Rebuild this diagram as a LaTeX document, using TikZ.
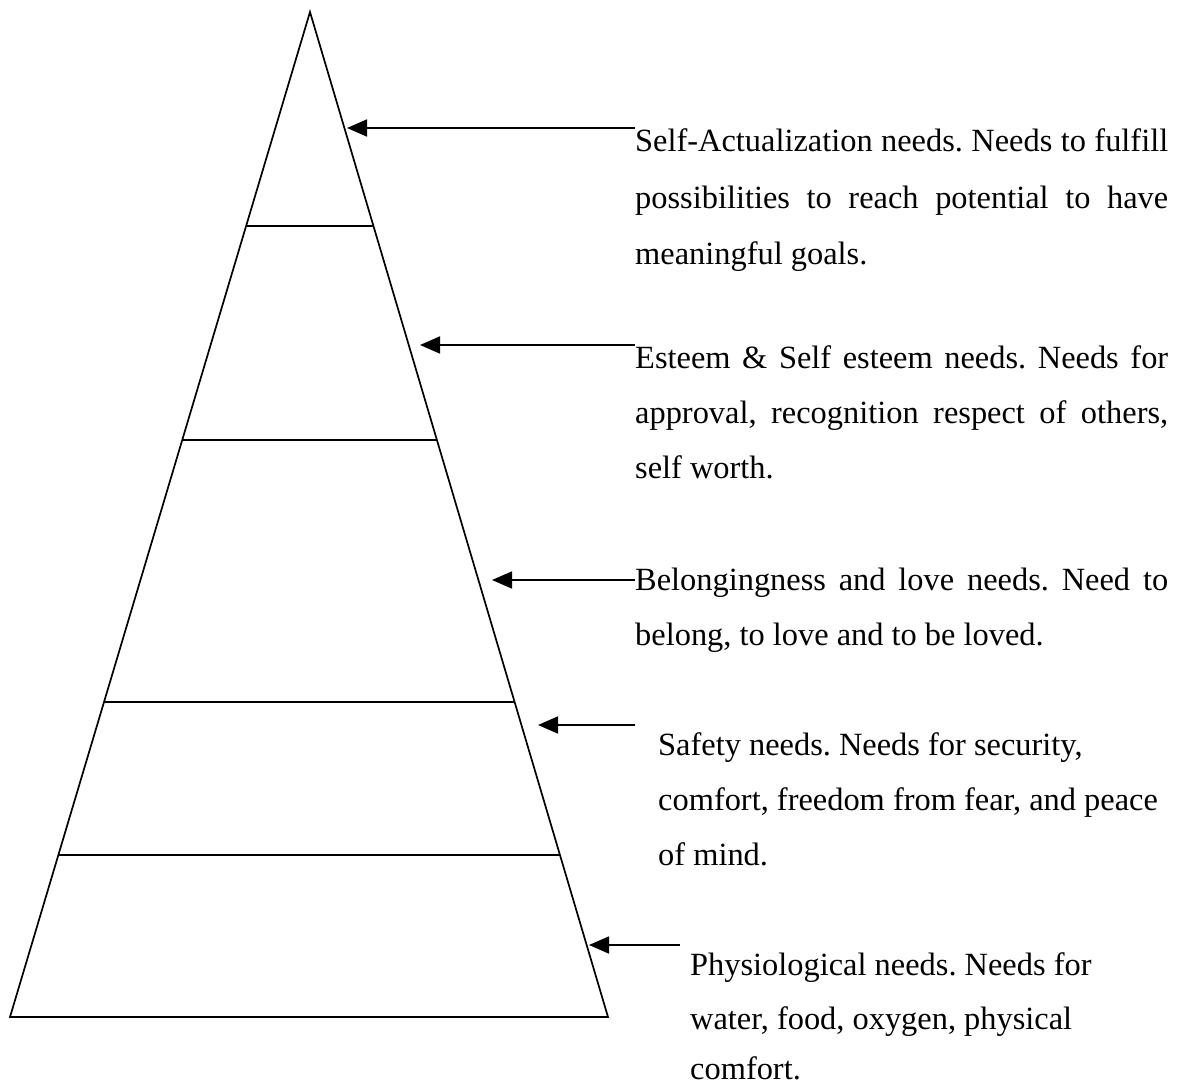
\documentclass[tikz,border=0pt]{standalone}
\usepackage{fontspec}
\setmainfont{Liberation Serif}
\usetikzlibrary{arrows.meta,calc}
\begin{document}
\frenchspacing
\begin{tikzpicture}[x=1pt,y=-1pt,
  edgeline/.style={line width=1.7pt},
  ptr/.style={line width=1.7pt,-{Triangle[length=20pt,width=17pt]}},
  txt/.style={anchor=base west, inner sep=0pt, font=\fontsize{32.4}{40}\selectfont}]
\useasboundingbox (0,0) rectangle (1177,1086);
% pyramid
\coordinate (apex) at (310,12);
\coordinate (bl) at (10,1017);
\coordinate (br) at (608,1017);
\draw[edgeline, line join=miter] (apex) -- (br) -- (bl) -- cycle;
\foreach \f/\n in {0.2129/a,0.4259/b,0.6866/c,0.8388/d}{
  \coordinate (L\n) at ($(apex)!\f!(bl)$);
  \coordinate (R\n) at ($(apex)!\f!(br)$);
  \draw[edgeline] (L\n) -- (R\n);
}
% arrow coordinates
\coordinate (s1) at (635,128); \coordinate (t1) at (347,128);
\coordinate (s2) at (635,345); \coordinate (t2) at (420,345);
\coordinate (s3) at (635,580); \coordinate (t3) at (492,580);
\coordinate (s4) at (635,725); \coordinate (t4) at (538,725);
\coordinate (s5) at (680,945); \coordinate (t5) at (589,945);
\foreach \i in {1,...,5}{\draw[ptr] (s\i) -- (t\i);}
% texts
\node[txt] (a1) at (635,152) {\makebox[533pt][s]{Self-Actualization needs. Needs to fulfill}};
\node[txt] (a2) at (635,208) {\makebox[533pt][s]{possibilities to reach potential to have}};
\node[txt] (a3) at (635,264) {meaningful goals.};
\node[txt] (b1) at (635,368) {\makebox[533pt][s]{Esteem \& Self esteem needs. Needs for}};
\node[txt] (b2) at (635,423) {\makebox[533pt][s]{approval, recognition respect of others,}};
\node[txt] (b3) at (635,478) {self worth.};
\node[txt] (c1) at (635,590) {\makebox[533pt][s]{Belongingness and love needs. Need to}};
\node[txt] (c2) at (635,645) {belong, to love and to be loved.};
\node[txt] (d1) at (658,755) {Safety needs. Needs for security,};
\node[txt] (d2) at (658,810) {comfort, freedom from fear, and peace};
\node[txt] (d3) at (658,865) {of mind.};
\node[txt] (e1) at (690,975) {Physiological needs. Needs for};
\node[txt] (e2) at (690,1029) {water, food, oxygen, physical};
\node[txt] (e3) at (690,1079) {comfort.};
\end{tikzpicture}
\end{document}
